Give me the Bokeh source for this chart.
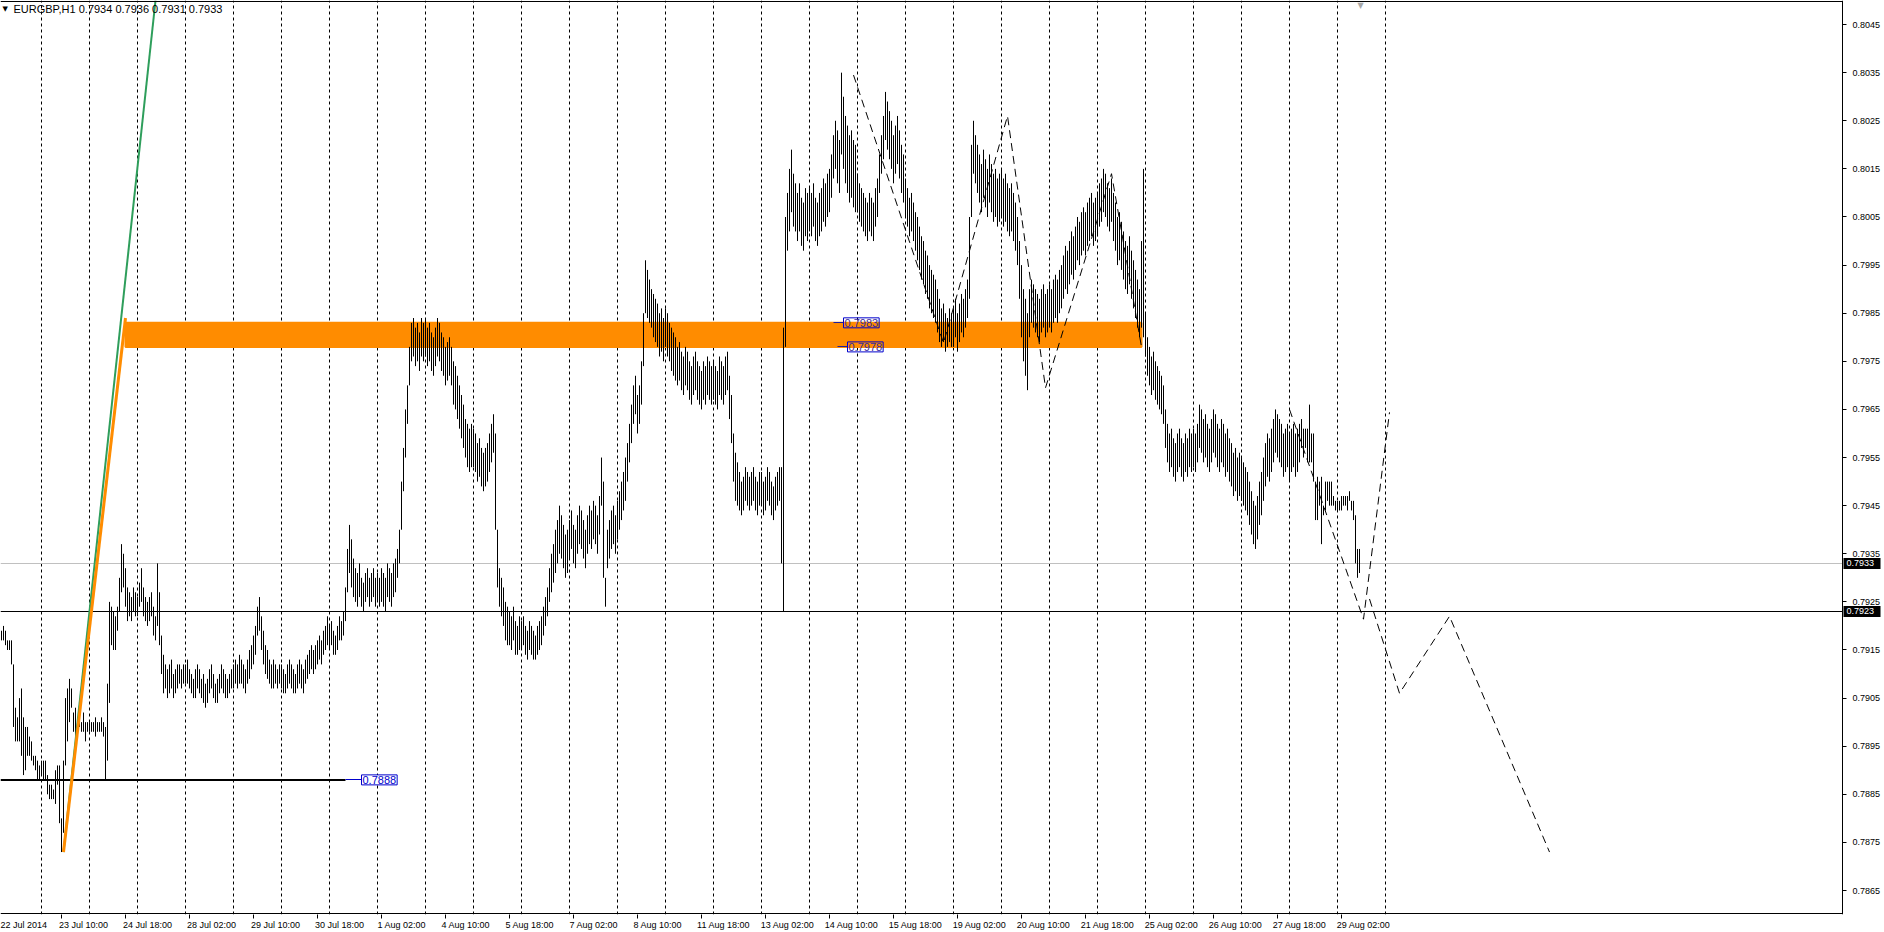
import math
import pandas as pd
from bokeh.plotting import figure
from bokeh.models import Range1d, FixedTicker, Label
from bokeh.core.properties import value
from bokeh.embed import file_html
from bokeh.resources import INLINE

# ---------------- data ----------------
BASE = 0.7800      # hourly highs / lows below are in pips above this price
PIP = 0.0001
symbol = "EURGBP,H1"
last_ohlc = ["0.7934", "0.7936", "0.7931", "0.7933"]
first_bar = "2014-07-22 04:00"

hi_22jul = [119,120,119,117,117,117,112,103,101,105,107,101,99,99,97,96,93,93,92,91]
lo_22jul = [117,117,116,115,115,112,99,96,96,96,93,89,90,93,93,92,91,90,88,88]
hi_23jul = [92,92,92,89,87,87,86,90,91,91,80,92,105,107,109,107,102,103,101,102,100,102,100,100]
lo_23jul = [89,88,88,85,84,84,84,83,87,79,73,77,91,96,100,103,98,97,99,99,98,98,96,98]
hi_24jul = [100,100,100,101,100,100,101,100,99,108,125,124,123,122,124,130,137,135,132,128,127,126,128,127]
lo_24jul = [98,98,98,97,98,98,98,97,88,92,104,116,115,115,119,123,127,128,124,121,122,121,123,122]
hi_25jul = [126,129,132,128,126,125,126,127,124,122,133,127,118,114,112,111,112,113,110,111,112,112,111,112]
lo_25jul = [122,124,125,122,121,120,121,122,118,117,120,116,110,106,107,105,106,107,105,106,107,108,107,108]
hi_28jul = [112,113,111,110,109,111,112,111,109,110,108,109,111,112,110,108,109,110,112,111,110,109,110,111]
lo_28jul = [108,108,107,106,105,105,107,106,105,104,103,104,106,107,105,104,104,106,107,106,105,105,106,107]
hi_29jul = [112,113,112,114,113,112,111,113,115,116,118,120,124,126,122,119,116,115,113,112,113,112,111,112]
lo_29jul = [107,108,107,108,108,107,106,108,109,111,112,114,118,119,115,112,110,109,108,107,107,108,107,108]
hi_30jul = [112,111,110,112,113,112,111,110,112,113,112,111,113,114,115,116,115,116,117,118,117,119,120,122]
lo_30jul = [107,106,106,107,108,107,106,106,107,108,107,106,108,109,110,111,110,111,112,113,112,114,115,116]
hi_31jul = [120,121,119,118,120,122,121,123,128,136,141,138,134,132,131,133,130,129,131,132,130,131,132,130]
lo_31jul = [115,116,114,114,115,117,117,118,121,127,131,128,126,125,124,126,124,123,125,126,124,125,126,124]
hi_01aug = [131,130,132,131,130,133,132,131,133,134,136,140,150,157,165,170,178,183,184,182,183,181,184,183]
lo_01aug = [125,124,125,124,123,126,125,124,126,127,130,133,140,148,155,162,170,175,176,174,175,173,176,175]
hi_04aug = [184,182,183,181,180,182,184,183,181,180,178,179,180,178,175,174,172,170,168,166,163,162,161,162]
lo_04aug = [176,174,175,173,172,174,176,175,173,172,170,171,172,170,166,165,163,161,159,157,155,153,152,153]
hi_05aug = [161,160,158,159,157,156,157,158,160,162,164,160,140,132,130,128,125,124,123,122,124,121,120,122]
lo_05aug = [153,152,150,151,149,148,149,150,152,154,156,140,128,124,122,120,117,116,116,115,117,114,114,115]
hi_06aug = [121,122,120,119,121,120,119,118,120,121,122,124,126,128,132,135,137,140,142,145,143,141,139,140]
lo_06aug = [115,116,114,113,115,114,113,113,114,115,116,118,120,122,125,127,129,131,133,135,134,132,130,131]
hi_07aug = [142,144,141,140,143,145,144,142,140,143,145,144,146,145,143,147,155,150,130,140,142,144,145,143]
lo_07aug = [134,136,133,132,135,137,136,134,132,135,137,136,138,137,135,139,145,130,124,132,134,136,137,135]
hi_08aug = [146,148,150,152,155,158,162,166,170,172,168,170,175,185,196,194,192,190,189,188,187,185,186,184]
lo_08aug = [138,140,142,144,146,150,154,158,162,164,160,162,166,174,185,184,183,182,180,179,178,176,177,175]
hi_11aug = [186,185,183,182,181,180,178,179,177,176,178,177,175,174,176,177,175,174,173,175,174,176,175,174]
lo_11aug = [178,176,175,173,172,171,170,171,169,168,170,169,167,166,168,169,167,166,165,167,166,168,167,166]
hi_12aug = [175,174,173,176,175,174,176,177,172,168,160,156,154,152,150,151,153,152,151,152,153,151,150,152]
lo_12aug = [167,166,165,168,167,166,168,169,163,158,150,146,145,144,143,144,146,145,144,145,146,144,143,145]
hi_13aug = [152,150,151,153,152,150,149,151,152,153,153,182,205,210,215,219,214,212,210,212,209,208,211,210]
lo_13aug = [145,143,144,146,145,143,142,144,145,146,133,123,178,198,202,206,203,202,200,202,199,198,201,200]
hi_14aug = [211,210,212,209,208,210,211,213,212,214,215,218,222,225,223,221,235,230,226,224,222,223,221,220]
lo_14aug = [202,201,203,200,199,201,202,204,203,205,206,209,213,215,212,210,218,215,212,210,208,209,207,206]
hi_15aug = [214,212,211,210,209,208,210,209,208,211,213,218,222,226,231,229,227,225,222,224,226,223,220,218]
lo_15aug = [206,204,203,202,201,200,202,201,200,203,205,210,214,217,221,219,217,215,212,214,216,213,210,208]
hi_18aug = [213,211,209,210,208,206,205,203,201,200,198,197,195,194,193,192,190,188,186,187,185,184,186,185]
lo_18aug = [205,203,201,202,200,198,196,194,192,191,189,188,186,185,184,183,181,179,178,179,177,178,179,178]
hi_19aug = [186,188,185,187,189,188,190,192,205,220,225,222,220,218,216,219,217,215,218,216,214,215,213,214]
lo_19aug = [178,180,177,179,181,180,182,184,188,205,214,212,210,208,206,209,207,205,208,206,204,205,203,204]
hi_20aug = [215,213,214,212,211,212,210,208,205,200,195,190,188,185,190,192,191,190,189,188,190,191,189,190]
lo_20aug = [205,203,204,202,201,202,200,198,195,188,180,175,172,169,180,183,182,181,180,179,181,182,180,181]
hi_21aug = [191,190,192,193,192,194,195,197,199,198,200,202,201,203,205,204,206,207,206,208,209,210,208,209]
lo_21aug = [182,181,183,184,183,185,186,188,190,189,191,193,192,194,196,195,197,198,197,199,200,201,199,200]
hi_22aug = [210,212,213,215,214,212,211,213,210,208,205,206,204,202,200,199,201,198,196,194,192,190,200,215]
lo_22aug = [201,203,204,206,205,203,202,204,200,198,195,196,194,192,190,189,191,188,186,184,182,180,182,180]
hi_25aug = [185,180,178,176,177,175,174,173,172,170,165,162,160,161,159,158,160,161,159,158,160,159,161,160]
lo_25aug = [176,172,170,168,169,167,166,165,164,162,157,154,152,153,151,150,152,153,151,150,152,151,153,152]
hi_26aug = [161,160,162,166,165,163,164,162,161,163,165,164,162,161,163,162,160,161,159,158,156,157,155,156]
lo_26aug = [153,152,154,157,156,154,155,153,152,154,156,155,153,152,154,153,151,152,150,149,147,148,146,147]
hi_27aug = [155,154,153,152,150,148,146,145,147,150,152,155,158,160,159,161,163,165,164,163,162,160,161,162]
lo_27aug = [146,145,144,143,141,139,137,136,138,141,143,146,149,151,150,152,154,156,155,154,153,151,152,153]
hi_28aug = [160,161,162,160,161,162,163,161,161,161,166,160,160,150,151,150,151,145,150,150,150,150,147,146]
lo_28aug = [150,152,153,151,152,154,157,155,157,154,154,154,150,142,142,145,137,143,144,146,145,145,145,144]
hi_29aug = [146,146,147,147,147,147,148,146,146,143,136,136]
lo_29aug = [144,144,144,145,145,144,146,144,142,133,130,131]

day_highs = [hi_22jul, hi_23jul, hi_24jul, hi_25jul, hi_28jul, hi_29jul, hi_30jul, hi_31jul,
             hi_01aug, hi_04aug, hi_05aug, hi_06aug, hi_07aug, hi_08aug, hi_11aug, hi_12aug,
             hi_13aug, hi_14aug, hi_15aug, hi_18aug, hi_19aug, hi_20aug, hi_21aug, hi_22aug,
             hi_25aug, hi_26aug, hi_27aug, hi_28aug, hi_29aug]
day_lows = [lo_22jul, lo_23jul, lo_24jul, lo_25jul, lo_28jul, lo_29jul, lo_30jul, lo_31jul,
            lo_01aug, lo_04aug, lo_05aug, lo_06aug, lo_07aug, lo_08aug, lo_11aug, lo_12aug,
            lo_13aug, lo_14aug, lo_15aug, lo_18aug, lo_19aug, lo_20aug, lo_21aug, lo_22aug,
            lo_25aug, lo_26aug, lo_27aug, lo_28aug, lo_29aug]

# levels and drawn objects (prices / anchor times)
price_ticks = [0.7865, 0.7875, 0.7885, 0.7895, 0.7905, 0.7915, 0.7925, 0.7935, 0.7945, 0.7955,
               0.7965, 0.7975, 0.7985, 0.7995, 0.8005, 0.8015, 0.8025, 0.8035, 0.8045]
bid_level = 0.7933
hline_level = 0.7923
support_level = 0.7888
support_end = "2014-07-31 08:00"
support_label_at = "2014-07-31 16:00"
zone_top, zone_bottom = 0.7983, 0.7978
zone_start, zone_end = "2014-07-24 18:00", "2014-08-22 22:00"
zone_label_at = ["2014-08-14 17:00", "2014-08-14 19:00"]
green_trend = [("2014-07-23 11:00", 0.7873), ("2014-07-25 09:00", 0.8050)]
orange_trend = [("2014-07-23 11:00", 0.7873), ("2014-07-24 18:00", 0.7984)]
dashed_paths = [
    [("2014-08-14 22:00", 0.80345), ("2014-08-18 19:00", 0.79788), ("2014-08-20 03:00", 0.80260),
     ("2014-08-20 22:00", 0.79695), ("2014-08-22 07:00", 0.80140), ("2014-08-22 22:00", 0.79780)],
    [("2014-08-28 00:00", 0.79650), ("2014-08-29 13:00", 0.79214), ("2014-09-01 02:00", 0.79644)],
    [("2014-08-29 16:00", 0.79256), ("2014-09-01 07:00", 0.79060), ("2014-09-02 08:00", 0.79220),
     ("2014-09-04 10:00", 0.78730)],
]
label_every = 32          # bars between time-axis labels
first_label = "2014-07-22 02:00"

# ---------------- derived ----------------
highs = [BASE + v * PIP for d in day_highs for v in d]
lows = [BASE + v * PIP for d in day_lows for v in d]
n = len(highs)

t_all = pd.date_range("2014-07-22 00:00", periods=2400, freq="h")
t_all = t_all[t_all.dayofweek < 5]
off = t_all.get_loc(pd.Timestamp(first_bar))


def pos(s):
    return float(t_all.get_loc(pd.Timestamp(s)) - off)


xs = [float(i) for i in range(n)]

# layout: 2 px per bar, price scale drawn inside the frame on the right
FW, FH = 1884, 914
BARPX = 2.0
X0 = -0.5
X1 = X0 + FW / BARPX
CHART_PX = 1842                      # width of the bar area in px
pxy = 48110.0                        # px per price unit (about 4.8 px per pip)
Y1 = 0.80500
Y0 = Y1 - FH / pxy


def xpx(px):                          # px from frame left -> data x
    return X0 + px / BARPX


def snap(v):                          # put a horizontal line on a pixel row
    py = (Y1 - v) * pxy
    return Y1 - float(round(py)) / pxy


XR = xpx(CHART_PX)                   # price-scale line

p = figure(frame_width=FW, frame_height=FH, x_range=Range1d(X0, X1), y_range=Range1d(Y0, Y1),
           output_backend="svg", toolbar_location=None, y_axis_location=None,
           min_border=0, background_fill_color="white")
p.outline_line_color = None
p.xgrid.visible = False
p.ygrid.visible = False

FONT = "Liberation Sans"

# day separators
seps = [float(i - off) for i in range(len(t_all))
        if t_all[i].hour == 0 and off <= i <= off + n + 24]
p.segment(x0=seps, y0=[Y0] * len(seps), x1=seps, y1=[Y1] * len(seps),
          line_color="black", line_width=1, line_dash="3 3")

# orange zone
p.quad(left=[pos(zone_start)], right=[pos(zone_end)], bottom=[zone_bottom], top=[zone_top],
       fill_color="#FF8C00", line_color="#FF8C00", line_width=2)

# horizontal lines
p.line([X0, XR], [snap(bid_level)] * 2, line_color="#C0C0C0", line_width=1)
p.line([X0, XR], [snap(hline_level)] * 2, line_color="black", line_width=1)
p.line([X0, pos(support_end)], [support_level] * 2, line_color="black", line_width=2)
p.line([pos(support_end), pos(support_label_at)], [snap(support_level)] * 2,
       line_color="#0000CC", line_width=1)

# bars
p.segment(x0=xs, y0=lows, x1=xs, y1=highs, line_color="black", line_width=1)

# trend lines
p.line([pos(a) for a, _ in green_trend], [b for _, b in green_trend], line_color="#2E9E5B", line_width=2)
p.line([pos(a) for a, _ in orange_trend], [b for _, b in orange_trend], line_color="#FF8C00", line_width=3)

for path in dashed_paths:
    p.line([pos(a) for a, _ in path], [b for _, b in path], line_color="black",
           line_width=1, line_dash="8 5")

# price label objects
for lvl, at in zip((zone_top, zone_bottom), zone_label_at):
    xa_ = pos(at)
    p.line([xa_ - 5, xa_], [snap(lvl)] * 2, line_color="#1E1E9C", line_width=1)
    p.add_layout(Label(x=xa_, y=lvl, text="%.4f" % lvl, text_font=FONT,
                       text_font_size="11px", text_color="#3A2A9A", text_baseline="middle",
                       border_line_color="#0000CC", border_line_width=1, padding=1))
p.add_layout(Label(x=pos(support_label_at), y=support_level, text="%.4f" % support_level,
                   text_font=FONT, text_font_size="11px", text_color="#0000CC",
                   text_baseline="middle", border_line_color="#0000CC", border_line_width=1,
                   background_fill_color="white", padding=1))

# header
p.add_layout(Label(x=xpx(2), y=Y1 - 8 / pxy, text="\u25BC", text_font="DejaVu Sans",
                   text_font_size="7px", text_color="black", text_baseline="middle"))
p.add_layout(Label(x=xpx(13), y=Y1 - 8 / pxy,
                   text=symbol + "   " + " ".join(last_ohlc), text_font=FONT,
                   text_font_size="11px", text_color="black", text_baseline="middle"))
# chart-shift marker
p.add_layout(Label(x=n - 0.5, y=Y1, text="\u25BC", text_font="DejaVu Sans",
                   text_font_size="8px", text_color="#A8A8A8", text_baseline="top",
                   text_align="center"))

# chart border and price scale
p.line([X0, XR], [snap(Y1 - 0.6 / pxy)] * 2, line_color="black", line_width=1)
p.line([X0, XR], [snap(Y0 + 0.6 / pxy)] * 2, line_color="black", line_width=1)
p.line([XR, XR], [Y0, Y1], line_color="black", line_width=1)
tick_y = [snap(v) for v in price_ticks]
p.segment(x0=[XR] * len(tick_y), y0=tick_y, x1=[xpx(CHART_PX + 4)] * len(tick_y), y1=tick_y,
          line_color="black", line_width=1)
p.text(x=[xpx(CHART_PX + 10)] * len(price_ticks), y=price_ticks,
       text=["%.4f" % v for v in price_ticks], text_font=value(FONT),
       text_font_size=value("9px"), text_color="black", text_baseline="middle", text_align="left")

# current-price boxes on the price scale
box_lv = [bid_level, hline_level]
p.quad(left=[xpx(CHART_PX + 1)] * 2, right=[xpx(CHART_PX + 38)] * 2,
       bottom=[v - 5.5 / pxy for v in box_lv], top=[v + 5.5 / pxy for v in box_lv],
       fill_color="black", line_color=None)
p.text(x=[xpx(CHART_PX + 4)] * 2, y=box_lv, text=["%.4f" % v for v in box_lv],
       text_font=value(FONT), text_font_size=value("9px"), text_color="white",
       text_baseline="middle", text_align="left")

# time axis: tick marks at label times, labels left-aligned to their tick
lab_pos, lab_txt = [], []
k = pos(first_label)
while k <= n:
    if k < 0:
        ts = t_all[int(k) + off + 2]
        txt = "%d %s %d" % (ts.day, ts.strftime("%b"), ts.year)
    else:
        ts = t_all[int(k) + off]
        txt = "%d %s" % (ts.day, ts.strftime("%b %H:%M"))
    lab_pos.append(k)
    lab_txt.append(txt)
    k += label_every
centers = [float(x + (1 + 3.5 * len(s) / 2) / BARPX) for x, s in zip(lab_pos, lab_txt)]
xa = p.xaxis[0]
xa.ticker = FixedTicker(ticks=centers, minor_ticks=[float(v) for v in lab_pos])
xa.major_label_overrides = {c: s for c, s in zip(centers, lab_txt)}
xa.major_tick_out = 0
xa.major_tick_in = 0
xa.minor_tick_out = 4
xa.minor_tick_in = 0
xa.minor_tick_line_color = "black"
xa.major_label_standoff = 1
xa.major_label_text_font = FONT
xa.major_label_text_font_size = "9px"
xa.major_label_text_color = "black"
xa.axis_line_color = None

open("out.html", "w").write(file_html(p, INLINE))
